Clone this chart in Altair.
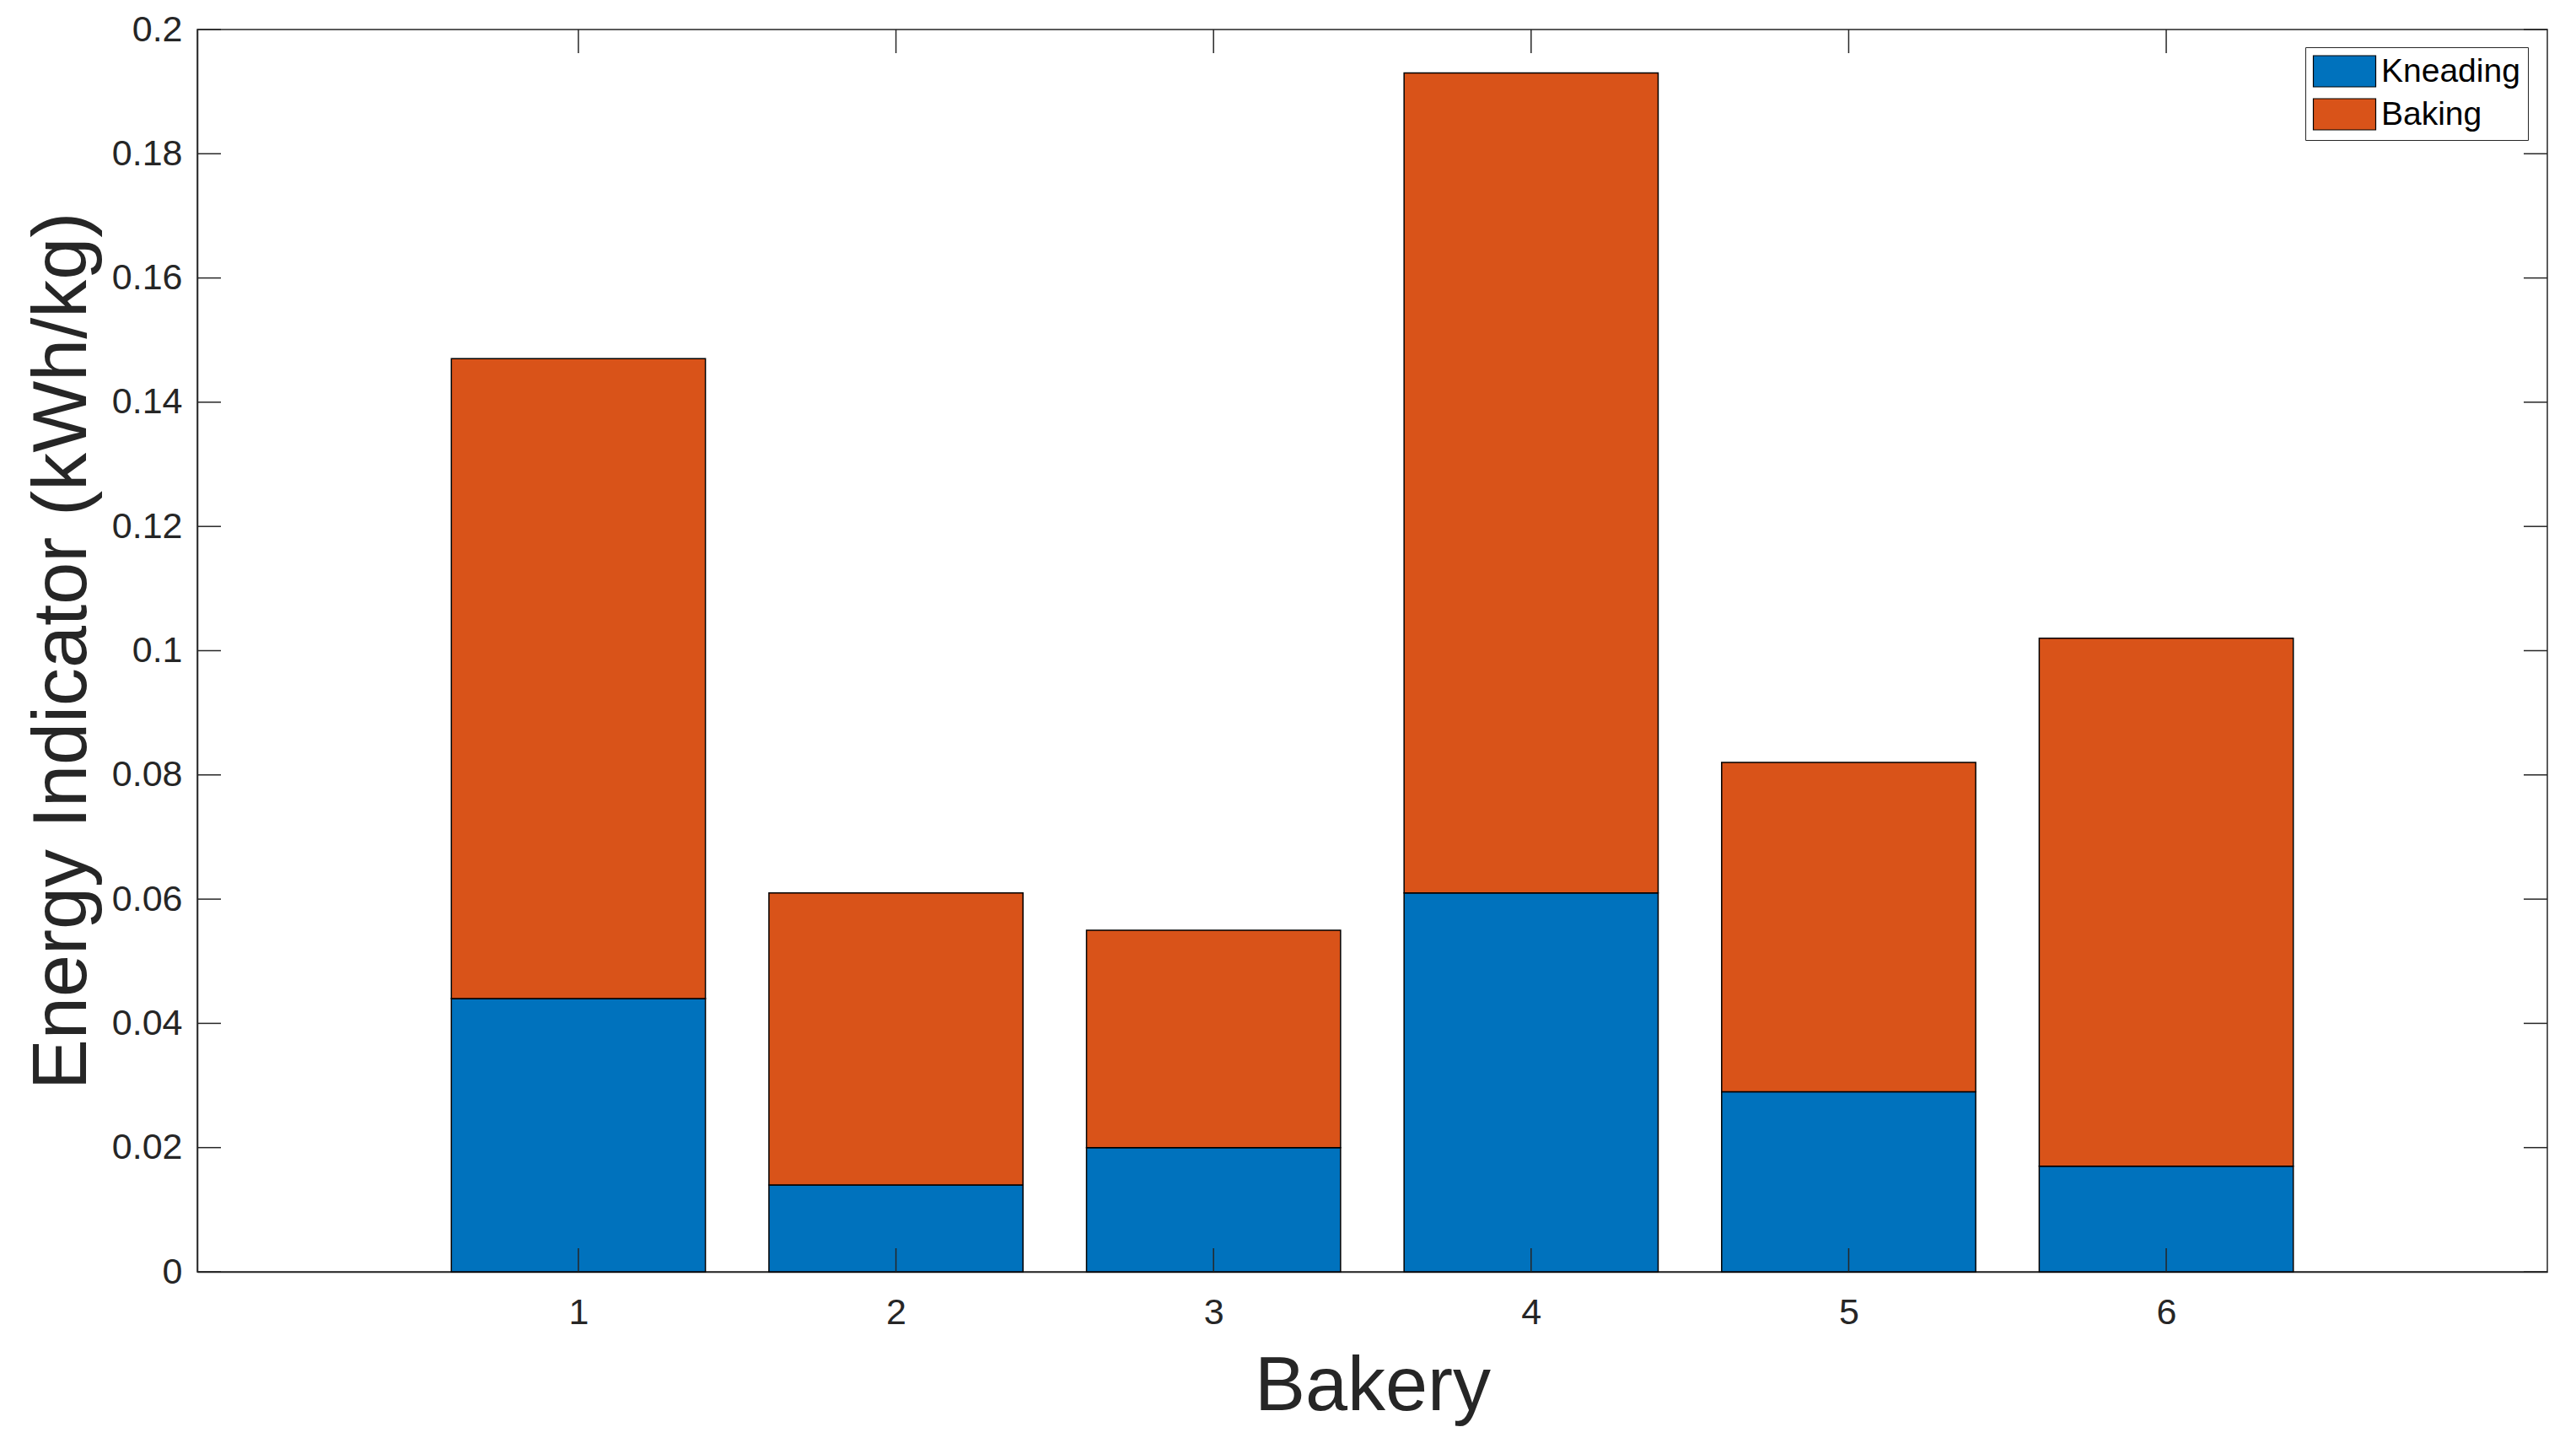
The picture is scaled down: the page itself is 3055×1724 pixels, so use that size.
import altair as alt
import pandas as pd

# ---- data ----
bakery = [1, 2, 3, 4, 5, 6]
kneading = [0.044, 0.014, 0.020, 0.061, 0.029, 0.017]
baking = [0.103, 0.047, 0.035, 0.132, 0.053, 0.085]
components = ["Kneading", "Baking"]
colors = ["#0072BD", "#D95319"]
x_ticks = [1, 2, 3, 4, 5, 6]
y_ticks = [0, 0.02, 0.04, 0.06, 0.08, 0.1, 0.12, 0.14, 0.16, 0.18, 0.2]

rows = []
for b, k, bk in zip(bakery, kneading, baking):
    rows.append({"bakery": b, "component": "Kneading", "value": k, "order": 0})
    rows.append({"bakery": b, "component": "Baking", "value": bk, "order": 1})
df = pd.DataFrame(rows)

W, H = 2787, 1473
TICK = 28
FONT = "Liberation Sans"
TXT = "#262626"
XT = "Bakery"
YT = "Energy Indicator (kWh/kg)"

xscale = alt.Scale(domain=[-0.2, 7.2], nice=False, zero=False)
yscale = alt.Scale(domain=[0, 0.2], nice=False, zero=False)

bars = (
    alt.Chart(df)
    .transform_stack(stack="value", groupby=["bakery"], sort=[alt.SortField("order")], as_=["y0", "y1"])
    .transform_calculate(x0="datum.bakery - 0.4", x1="datum.bakery + 0.4")
    .mark_bar(stroke="black", strokeWidth=1.5, opacity=1)
    .encode(
        x=alt.X("x0:Q", scale=xscale, title=XT,
                axis=alt.Axis(values=x_ticks, format="d", labelPadding=27, titlePadding=22)),
        x2="x1:Q",
        y=alt.Y("y0:Q", scale=yscale, title=YT,
                axis=alt.Axis(values=y_ticks, format="~g", labelPadding=18, titlePadding=12)),
        y2="y1:Q",
        color=alt.Color(
            "component:N",
            scale=alt.Scale(domain=components, range=colors),
            legend=alt.Legend(
                title=None,
                orient="none",
                legendX=2500,
                legendY=21,
                symbolType="M-2,-1L2,-1L2,1L-2,1Z",
                symbolSize=1369,
                symbolOffset=18,
                symbolStrokeColor="black",
                symbolStrokeWidth=1.2,
                symbolOpacity=1,
                labelOffset=24,
                labelLimit=600,
                labelFont=FONT,
                labelFontSize=39,
                labelColor="black",
                padding=9,
                rowPadding=8,
                fillColor="white",
                strokeColor=TXT,
            ),
        ),
    )
)

xt = pd.DataFrame({"t": x_ticks})
yt = pd.DataFrame({"t": y_ticks})
rule = dict(color=TXT, strokeWidth=1.5)

bottom_ticks = alt.Chart(xt).mark_rule(**rule).encode(
    x=alt.X("t:Q", scale=xscale, title=XT), y=alt.value(H), y2=alt.value(H - TICK))
top_ticks = alt.Chart(xt).mark_rule(**rule).encode(
    x=alt.X("t:Q", scale=xscale, title=XT), y=alt.value(0), y2=alt.value(TICK))
left_ticks = alt.Chart(yt).mark_rule(**rule).encode(
    y=alt.Y("t:Q", scale=yscale, title=YT), x=alt.value(0), x2=alt.value(TICK))
right_ticks = alt.Chart(yt).mark_rule(**rule).encode(
    y=alt.Y("t:Q", scale=yscale, title=YT), x=alt.value(W), x2=alt.value(W - TICK))

chart = (
    alt.layer(bars, bottom_ticks, top_ticks, left_ticks, right_ticks)
    .properties(
        width=W,
        height=H,
        autosize=alt.AutoSizeParams(type="none"),
        padding={"left": 226, "top": 27, "right": 26, "bottom": 216},
        background="white",
    )
    .configure_view(stroke=TXT, strokeWidth=1.5)
    .configure_axis(
        grid=False,
        ticks=False,
        tickSize=0,
        domainColor=TXT,
        domainWidth=1.5,
        labelFont=FONT,
        labelFontSize=43,
        labelColor=TXT,
        titleFont=FONT,
        titleFontSize=90,
        titleFontWeight="normal",
        titleColor=TXT,
    )
)

chart.save("out.html", embed_options={"renderer": "svg", "actions": False})
